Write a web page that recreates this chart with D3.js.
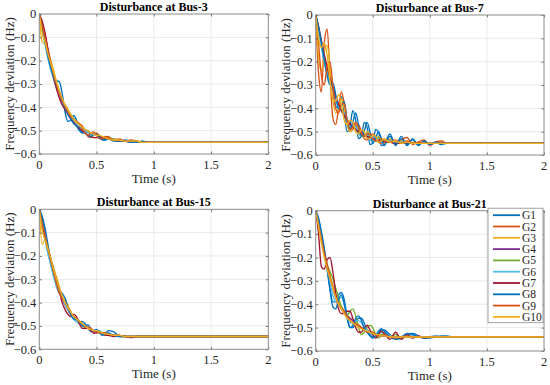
<!DOCTYPE html>
<html><head><meta charset="utf-8">
<script src="https://cdn.jsdelivr.net/npm/d3@7"></script>
<style>body{margin:0;background:#fff;}svg{display:block;}
text{font-family:"Liberation Serif","Times New Roman",Times,serif;}</style>
</head><body>
<svg id="chart" width="550" height="385"></svg>
<script>
const time = [0,0.025,0.05,0.075,0.1,0.125,0.15,0.175,0.2,0.225,0.25,0.275,0.3,0.325,0.35,0.375,0.4,0.425,0.45,0.475,0.5,0.525,0.55,0.575,0.6,0.65,0.7,0.75,0.8,0.85,0.9,0.95,1.0,1.05,1.1,1.15,1.2,2.0];
const generators = ["G1","G2","G3","G4","G5","G6","G7","G8","G9","G10"];
const colors = ["#0072BD","#D95319","#EDB120","#7E2F8E","#77AC30","#4DBEEE","#A2142F","#0072BD","#D95319","#EDB120"];
const panelTitles = ["Disturbance at Bus-3","Disturbance at Bus-7","Disturbance at Bus-15","Disturbance at Bus-21"];
const xTicks = [0,0.5,1,1.5,2];
const yTicks = [0,-0.1,-0.2,-0.3,-0.4,-0.5,-0.6];

const bus3 = [
[0,-.05,-.11,-.17,-.22,-.26,-.285,-.29,-.34,-.42,-.46,-.455,-.435,-.455,-.49,-.505,-.50,-.505,-.515,-.52,-.515,-.52,-.535,-.54,-.535,-.54,-.545,-.54,-.545,-.55,-.545,-.55,-.55,-.55,-.55,-.55,-.55,-.55],
[0,-.04,-.09,-.15,-.20,-.25,-.30,-.34,-.37,-.39,-.41,-.44,-.46,-.47,-.47,-.48,-.50,-.525,-.53,-.52,-.51,-.525,-.535,-.53,-.525,-.54,-.535,-.545,-.54,-.545,-.55,-.55,-.55,-.55,-.55,-.55,-.55,-.55],
[0,-.12,-.13,-.16,-.20,-.24,-.29,-.33,-.37,-.39,-.41,-.43,-.45,-.46,-.48,-.49,-.50,-.505,-.51,-.515,-.52,-.52,-.53,-.53,-.535,-.54,-.54,-.545,-.545,-.545,-.55,-.55,-.55,-.55,-.55,-.55,-.55,-.55],
[0,-.06,-.12,-.18,-.23,-.27,-.31,-.345,-.375,-.40,-.42,-.44,-.455,-.47,-.48,-.49,-.50,-.505,-.51,-.515,-.52,-.525,-.53,-.53,-.535,-.54,-.54,-.545,-.545,-.545,-.55,-.55,-.55,-.55,-.55,-.55,-.55,-.55],
[0,-.05,-.11,-.17,-.22,-.27,-.31,-.34,-.37,-.40,-.42,-.43,-.45,-.47,-.48,-.49,-.495,-.50,-.51,-.52,-.52,-.52,-.53,-.535,-.53,-.535,-.54,-.545,-.545,-.545,-.55,-.55,-.55,-.55,-.55,-.55,-.55,-.55],
[0,-.07,-.13,-.19,-.24,-.28,-.32,-.35,-.38,-.40,-.42,-.44,-.46,-.47,-.48,-.49,-.50,-.505,-.51,-.52,-.52,-.525,-.53,-.53,-.535,-.54,-.545,-.545,-.545,-.55,-.55,-.55,-.55,-.55,-.55,-.55,-.55,-.55],
[0,-.03,-.08,-.15,-.21,-.27,-.32,-.36,-.39,-.41,-.43,-.45,-.465,-.48,-.49,-.50,-.51,-.52,-.525,-.53,-.53,-.525,-.53,-.535,-.535,-.54,-.545,-.545,-.55,-.55,-.55,-.55,-.55,-.55,-.55,-.55,-.55,-.55],
[0,-.06,-.12,-.18,-.23,-.27,-.30,-.33,-.37,-.40,-.43,-.45,-.47,-.48,-.50,-.51,-.51,-.52,-.525,-.515,-.515,-.53,-.54,-.54,-.535,-.545,-.545,-.545,-.55,-.55,-.545,-.55,-.55,-.55,-.55,-.55,-.55,-.55],
[0,-.05,-.10,-.16,-.21,-.26,-.30,-.34,-.37,-.395,-.42,-.44,-.45,-.46,-.47,-.49,-.51,-.52,-.51,-.505,-.52,-.535,-.535,-.525,-.53,-.54,-.54,-.545,-.545,-.545,-.55,-.55,-.55,-.55,-.55,-.55,-.55,-.55],
[0,-.08,-.12,-.17,-.21,-.25,-.29,-.33,-.36,-.39,-.41,-.43,-.45,-.465,-.475,-.485,-.495,-.50,-.51,-.515,-.52,-.52,-.525,-.53,-.535,-.54,-.54,-.545,-.545,-.545,-.55,-.55,-.55,-.55,-.55,-.55,-.55,-.55]
];

const bus7 = [
[0,-.06,-.13,-.20,-.25,-.26,-.31,-.39,-.40,-.35,-.42,-.50,-.48,-.41,-.45,-.53,-.52,-.46,-.48,-.555,-.55,-.49,-.50,-.56,-.555,-.51,-.56,-.52,-.56,-.53,-.56,-.54,-.555,-.545,-.555,-.55,-.55,-.55],
[0,-.25,-.33,-.12,-.06,-.25,-.44,-.47,-.40,-.33,-.38,-.46,-.50,-.49,-.47,-.47,-.50,-.53,-.535,-.52,-.51,-.52,-.545,-.55,-.535,-.535,-.555,-.535,-.525,-.555,-.545,-.535,-.56,-.545,-.54,-.55,-.55,-.55],
[0,-.18,-.24,-.16,-.13,-.22,-.36,-.42,-.40,-.36,-.40,-.47,-.50,-.48,-.46,-.49,-.52,-.52,-.50,-.51,-.54,-.54,-.52,-.53,-.55,-.53,-.55,-.54,-.55,-.545,-.55,-.55,-.55,-.55,-.55,-.55,-.55,-.55],
[0,-.06,-.12,-.18,-.23,-.28,-.32,-.355,-.385,-.41,-.43,-.45,-.47,-.48,-.49,-.50,-.51,-.515,-.52,-.53,-.53,-.535,-.54,-.54,-.545,-.545,-.55,-.55,-.55,-.55,-.55,-.55,-.55,-.55,-.55,-.55,-.55,-.55],
[0,-.05,-.11,-.18,-.24,-.28,-.31,-.35,-.39,-.41,-.42,-.45,-.48,-.48,-.48,-.50,-.52,-.52,-.51,-.52,-.54,-.535,-.525,-.54,-.545,-.54,-.55,-.545,-.55,-.55,-.55,-.55,-.55,-.55,-.55,-.55,-.55,-.55],
[0,-.07,-.14,-.20,-.25,-.29,-.32,-.36,-.40,-.41,-.42,-.46,-.48,-.48,-.48,-.51,-.52,-.51,-.51,-.535,-.54,-.53,-.53,-.545,-.545,-.54,-.55,-.545,-.55,-.55,-.55,-.55,-.55,-.55,-.55,-.55,-.55,-.55],
[0,-.05,-.11,-.17,-.22,-.27,-.31,-.35,-.38,-.41,-.43,-.45,-.465,-.48,-.49,-.50,-.51,-.515,-.52,-.525,-.53,-.535,-.54,-.54,-.545,-.545,-.55,-.55,-.55,-.55,-.55,-.55,-.55,-.55,-.55,-.55,-.55,-.55],
[0,-.05,-.12,-.19,-.26,-.30,-.29,-.34,-.40,-.39,-.37,-.45,-.49,-.46,-.42,-.47,-.52,-.50,-.46,-.50,-.55,-.53,-.50,-.53,-.56,-.52,-.555,-.53,-.555,-.535,-.555,-.54,-.555,-.545,-.55,-.55,-.55,-.55],
[0,-.12,-.26,-.30,-.22,-.20,-.30,-.40,-.42,-.38,-.38,-.45,-.49,-.48,-.46,-.48,-.51,-.52,-.51,-.51,-.53,-.54,-.535,-.53,-.54,-.545,-.535,-.55,-.54,-.55,-.545,-.55,-.55,-.55,-.55,-.55,-.55,-.55],
[0,-.10,-.14,-.12,-.17,-.28,-.36,-.37,-.34,-.38,-.45,-.47,-.45,-.46,-.50,-.51,-.49,-.50,-.53,-.53,-.515,-.52,-.545,-.54,-.53,-.545,-.54,-.55,-.545,-.55,-.55,-.55,-.55,-.55,-.55,-.55,-.55,-.55]
];

const bus15 = [
[0,-.03,-.08,-.15,-.22,-.28,-.33,-.36,-.37,-.40,-.43,-.45,-.47,-.48,-.485,-.48,-.49,-.51,-.525,-.52,-.515,-.53,-.54,-.535,-.52,-.525,-.545,-.545,-.545,-.545,-.545,-.545,-.545,-.545,-.545,-.545,-.545,-.545],
[0,-.05,-.11,-.17,-.23,-.27,-.31,-.35,-.38,-.41,-.43,-.45,-.46,-.47,-.49,-.50,-.505,-.51,-.515,-.52,-.52,-.525,-.53,-.535,-.535,-.54,-.54,-.545,-.545,-.545,-.545,-.545,-.545,-.545,-.545,-.545,-.545,-.545],
[0,-.15,-.13,-.16,-.21,-.25,-.29,-.33,-.37,-.39,-.41,-.44,-.46,-.47,-.48,-.49,-.50,-.51,-.515,-.52,-.52,-.525,-.53,-.53,-.535,-.54,-.54,-.545,-.545,-.545,-.545,-.545,-.545,-.545,-.545,-.545,-.545,-.545],
[0,-.06,-.12,-.18,-.23,-.28,-.32,-.35,-.38,-.41,-.43,-.45,-.46,-.47,-.48,-.49,-.50,-.51,-.515,-.52,-.52,-.53,-.53,-.535,-.535,-.54,-.54,-.545,-.545,-.545,-.545,-.545,-.545,-.545,-.545,-.545,-.545,-.545],
[0,-.05,-.11,-.17,-.22,-.27,-.31,-.35,-.38,-.40,-.42,-.44,-.46,-.48,-.49,-.50,-.505,-.51,-.515,-.52,-.52,-.525,-.53,-.53,-.535,-.54,-.545,-.545,-.545,-.545,-.545,-.545,-.545,-.545,-.545,-.545,-.545,-.545],
[0,-.07,-.13,-.19,-.24,-.29,-.33,-.36,-.38,-.41,-.43,-.45,-.47,-.48,-.49,-.495,-.50,-.51,-.52,-.525,-.525,-.52,-.53,-.535,-.53,-.545,-.54,-.545,-.545,-.545,-.545,-.545,-.545,-.545,-.545,-.545,-.545,-.545],
[0,-.06,-.12,-.17,-.21,-.26,-.30,-.35,-.40,-.43,-.45,-.46,-.45,-.46,-.49,-.51,-.51,-.51,-.52,-.53,-.53,-.525,-.53,-.54,-.54,-.545,-.54,-.545,-.55,-.545,-.545,-.545,-.545,-.545,-.545,-.545,-.545,-.545],
[0,-.04,-.10,-.16,-.22,-.27,-.31,-.35,-.36,-.38,-.42,-.45,-.47,-.47,-.48,-.50,-.50,-.495,-.51,-.52,-.52,-.525,-.535,-.535,-.53,-.54,-.545,-.545,-.545,-.545,-.545,-.545,-.545,-.545,-.545,-.545,-.545,-.545],
[0,-.06,-.11,-.17,-.22,-.27,-.32,-.36,-.38,-.40,-.42,-.44,-.46,-.47,-.48,-.49,-.50,-.505,-.51,-.52,-.525,-.53,-.53,-.53,-.535,-.54,-.54,-.545,-.545,-.545,-.545,-.545,-.545,-.545,-.545,-.545,-.545,-.545],
[0,-.09,-.13,-.17,-.21,-.26,-.30,-.34,-.37,-.40,-.42,-.44,-.46,-.47,-.48,-.49,-.50,-.51,-.515,-.52,-.52,-.525,-.53,-.535,-.535,-.54,-.54,-.545,-.545,-.545,-.545,-.545,-.545,-.545,-.545,-.545,-.545,-.545]
];

const bus21 = [
[0,-.04,-.10,-.17,-.24,-.33,-.39,-.39,-.36,-.35,-.38,-.45,-.50,-.50,-.48,-.46,-.46,-.48,-.51,-.53,-.54,-.535,-.52,-.51,-.51,-.53,-.55,-.545,-.53,-.525,-.535,-.545,-.545,-.54,-.535,-.535,-.54,-.54],
[0,-.05,-.11,-.17,-.23,-.28,-.32,-.36,-.39,-.41,-.43,-.45,-.46,-.47,-.48,-.49,-.50,-.51,-.515,-.52,-.525,-.53,-.53,-.535,-.535,-.54,-.54,-.54,-.54,-.54,-.54,-.54,-.54,-.54,-.54,-.54,-.54,-.54],
[0,-.06,-.12,-.18,-.24,-.28,-.32,-.36,-.39,-.42,-.44,-.45,-.46,-.47,-.48,-.49,-.50,-.505,-.51,-.515,-.52,-.525,-.53,-.53,-.535,-.535,-.54,-.54,-.54,-.54,-.54,-.54,-.54,-.54,-.54,-.54,-.54,-.54],
[0,-.05,-.12,-.18,-.24,-.29,-.33,-.37,-.40,-.42,-.44,-.45,-.46,-.47,-.485,-.495,-.50,-.51,-.515,-.52,-.525,-.53,-.53,-.535,-.535,-.54,-.54,-.54,-.54,-.54,-.54,-.54,-.54,-.54,-.54,-.54,-.54,-.54],
[0,-.05,-.12,-.19,-.23,-.26,-.29,-.33,-.37,-.41,-.44,-.45,-.43,-.42,-.45,-.50,-.53,-.52,-.50,-.49,-.50,-.53,-.545,-.53,-.525,-.54,-.53,-.545,-.535,-.54,-.54,-.54,-.54,-.54,-.54,-.54,-.54,-.54],
[0,-.05,-.12,-.19,-.25,-.31,-.36,-.39,-.38,-.37,-.40,-.45,-.48,-.48,-.47,-.47,-.48,-.50,-.51,-.52,-.53,-.53,-.525,-.52,-.525,-.535,-.545,-.54,-.535,-.535,-.54,-.54,-.54,-.54,-.54,-.54,-.54,-.54],
[0,-.10,-.24,-.25,-.21,-.20,-.26,-.35,-.42,-.44,-.44,-.43,-.43,-.46,-.50,-.52,-.52,-.50,-.49,-.51,-.53,-.545,-.53,-.515,-.525,-.55,-.52,-.55,-.53,-.545,-.535,-.545,-.54,-.54,-.54,-.54,-.54,-.54],
[0,-.03,-.09,-.16,-.25,-.34,-.41,-.42,-.38,-.36,-.40,-.46,-.50,-.49,-.46,-.45,-.47,-.50,-.52,-.535,-.545,-.535,-.515,-.505,-.515,-.54,-.55,-.54,-.525,-.53,-.54,-.545,-.54,-.535,-.54,-.54,-.54,-.54],
[0,-.06,-.12,-.18,-.23,-.28,-.33,-.37,-.40,-.42,-.43,-.45,-.47,-.48,-.485,-.49,-.50,-.51,-.52,-.52,-.52,-.53,-.535,-.535,-.53,-.54,-.545,-.54,-.535,-.54,-.54,-.54,-.54,-.54,-.54,-.54,-.54,-.54],
[0,-.07,-.14,-.20,-.25,-.29,-.33,-.37,-.40,-.42,-.44,-.46,-.47,-.48,-.49,-.50,-.505,-.51,-.515,-.52,-.525,-.53,-.53,-.535,-.535,-.54,-.54,-.54,-.54,-.54,-.54,-.54,-.54,-.54,-.54,-.54,-.54,-.54]
];

const panelData = [bus3, bus7, bus15, bus21];
const panelBoxes = [
  {x0:39.3, x1:268.3, y0:14,    y1:154},
  {x0:315.7, x1:544,  y0:15,    y1:155},
  {x0:39.3, x1:268.3, y0:209.3, y1:349.3},
  {x0:315.7, x1:544,  y0:210.7, y1:351}
];

const svg = d3.select("#chart");
const fmt = v => (v < 0 ? "\u2212" : "") + Math.abs(v).toString();

panelBoxes.forEach((b, pi) => {
  const x = d3.scaleLinear().domain([0,2]).range([b.x0,b.x1]);
  const y = d3.scaleLinear().domain([-0.6,0]).range([b.y1,b.y0]);
  const g = svg.append("g");

  g.selectAll(".gx").data(xTicks.slice(1,-1)).enter().append("line")
    .attr("x1", d=>x(d)).attr("x2", d=>x(d)).attr("y1", b.y0).attr("y2", b.y1)
    .attr("stroke", "#e3e3e3").attr("stroke-width", 0.8);
  g.selectAll(".gy").data(yTicks.slice(1,-1)).enter().append("line")
    .attr("y1", d=>y(d)).attr("y2", d=>y(d)).attr("x1", b.x0).attr("x2", b.x1)
    .attr("stroke", "#e3e3e3").attr("stroke-width", 0.8);

  const line = d3.line().x((d,i)=>x(time[i])).y(d=>y(d)).curve(d3.curveMonotoneX);
  const clipId = "clip"+pi;
  svg.append("clipPath").attr("id", clipId).append("rect")
    .attr("x", b.x0).attr("y", b.y0-2).attr("width", b.x1-b.x0).attr("height", b.y1-b.y0+2);
  const lg = g.append("g").attr("clip-path", `url(#${clipId})`);
  panelData[pi].forEach((vals, si) => {
    lg.append("path").attr("d", line(vals)).attr("fill","none")
      .attr("stroke", colors[si]).attr("stroke-width", 1.35);
  });

  const axB = d3.axisBottom(x).tickValues(xTicks).tickSizeInner(-2.5).tickSizeOuter(0).tickFormat("");
  const axT = d3.axisTop(x).tickValues(xTicks).tickSizeInner(-2.5).tickSizeOuter(0).tickFormat("");
  const axL = d3.axisLeft(y).tickValues(yTicks).tickSizeInner(-2.5).tickSizeOuter(0).tickFormat("");
  const axR = d3.axisRight(y).tickValues(yTicks).tickSizeInner(-2.5).tickSizeOuter(0).tickFormat("");
  [[axB,`translate(0,${b.y1})`],[axT,`translate(0,${b.y0})`],[axL,`translate(${b.x0},0)`],[axR,`translate(${b.x1},0)`]]
    .forEach(([ax,tr]) => {
      const a = g.append("g").attr("transform", tr).call(ax);
      a.select(".domain").remove();
      a.selectAll("line").attr("stroke","#555").attr("stroke-width",0.8);
    });
  g.append("rect").attr("x", b.x0).attr("y", b.y0).attr("width", b.x1-b.x0).attr("height", b.y1-b.y0)
    .attr("fill","none").attr("stroke","#8a8a8a").attr("stroke-width",1);

  g.selectAll(".xl").data(xTicks).enter().append("text")
    .attr("x", d=>x(d)).attr("y", b.y1+14.5).attr("text-anchor","middle")
    .attr("font-size",12.5).attr("fill","#262626").text(d=>fmt(d));
  g.selectAll(".yl").data(yTicks).enter().append("text")
    .attr("x", b.x0-3).attr("y", d=>y(d)+4.3).attr("text-anchor","end")
    .attr("font-size",12.5).attr("fill","#262626").text(d=>fmt(d));

  g.append("text").attr("x",(b.x0+b.x1)/2).attr("y", b.y1+28.5).attr("text-anchor","middle")
    .attr("font-size",13).attr("fill","#262626").text("Time (s)");
  g.append("text").attr("transform",`translate(${b.x0-25.5},${(b.y0+b.y1)/2}) rotate(-90)`)
    .attr("text-anchor","middle").attr("font-size",13).attr("fill","#262626")
    .text("Frequency deviation (Hz)");
  g.append("text").attr("x",(b.x0+b.x1)/2).attr("y", b.y0-3).attr("text-anchor","middle")
    .attr("font-size",12).attr("font-weight","bold").attr("fill","#000")
    .text(panelTitles[pi]);
});

const lb = panelBoxes[3];
const legX = 488, legW = lb.x1 - 1 - 488, legY = lb.y0 - 2.5, rowH = 11.3;
const leg = svg.append("g");
leg.append("rect").attr("x", legX).attr("y", legY).attr("width", legW).attr("height", rowH*generators.length + 1.5)
  .attr("fill","#fff").attr("stroke","#8a8a8a").attr("stroke-width",0.8);
generators.forEach((name, i) => {
  const cy = legY + 7 + i*rowH;
  leg.append("line").attr("x1", legX+5).attr("x2", legX+32).attr("y1", cy).attr("y2", cy)
    .attr("stroke", colors[i]).attr("stroke-width", 1.8);
  leg.append("text").attr("x", legX+34).attr("y", cy+4).attr("font-size",11.5)
    .attr("fill","#262626").text(name);
});
</script>
</body></html>
